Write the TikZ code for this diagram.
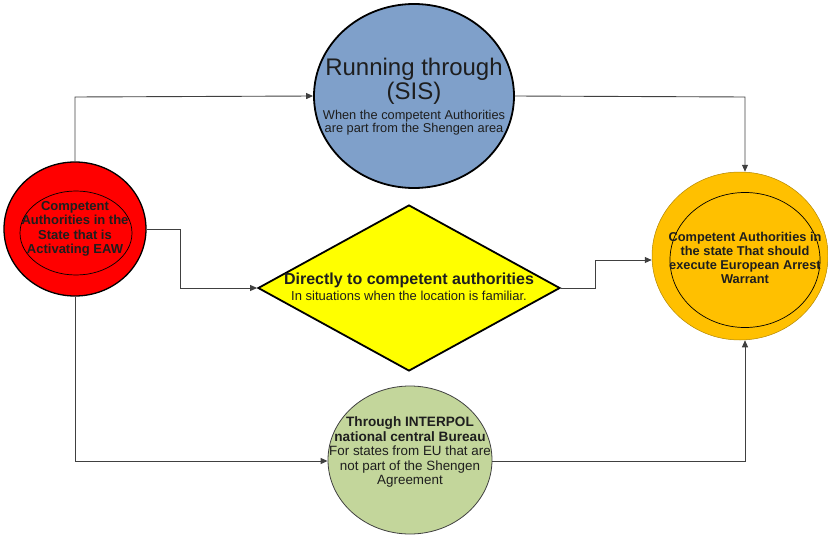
\documentclass[tikz,border=0pt]{standalone}
\usepackage{fontspec}
\setmainfont{Liberation Sans}
\usetikzlibrary{shapes.geometric,arrows.meta}
\definecolor{cred}{RGB}{255,0,0}
\definecolor{cblue}{RGB}{127,160,202}
\definecolor{cyellow}{RGB}{255,255,0}
\definecolor{corange}{RGB}{255,192,0}
\definecolor{cgreen}{RGB}{195,214,155}
\definecolor{cline}{RGB}{64,64,64}
\definecolor{ctext}{RGB}{30,30,30}
\tikzset{
  shp/.style={ellipse, inner sep=0pt},
  conn/.style={draw=cline, line width=0.9pt, -{Triangle[length=7pt,width=6pt]}},
  txt/.style={align=center, text=ctext, inner sep=0pt},
}
\begin{document}
\begin{tikzpicture}[x=1pt,y=-1pt]
\useasboundingbox (0,0) rectangle (828,535);
% shapes
\node[shp, draw=black, line width=1.3pt, fill=cred, minimum width=142pt, minimum height=134pt] (red) at (75,229) {};
\node[shp, draw=black, line width=0.7pt, minimum width=112pt, minimum height=84pt] (redin) at (76,233) {};
\node[shp, draw=black, line width=1.8pt, fill=cblue, minimum width=200pt, minimum height=184pt] (blue) at (414,96) {};
\node[diamond, draw=black, line width=1.8pt, fill=cyellow, inner sep=0pt, minimum width=302pt, minimum height=166pt] (dia) at (409,288) {};
\node[shp, draw=corange!70!black, line width=0.5pt, fill=corange, minimum width=176pt, minimum height=168pt] (org) at (740,256) {};
\node[shp, draw=black, line width=0.7pt, minimum width=150pt, minimum height=135pt] (orgin) at (745,260) {};
\node[shp, draw=black!75, line width=0.8pt, fill=cgreen, minimum width=164pt, minimum height=148pt] (grn) at (410,460) {};
% texts
\node[txt, font=\bfseries\fontsize{13}{14.5}\selectfont] (tred) at (75,229) {Competent\\Authorities in the\\State that is\\Activating EAW};
\node[txt, font=\fontsize{24}{24}\selectfont] (tblue1) at (414,81) {Running through\\(SIS)};
\node[txt, font=\fontsize{12.8}{13}\selectfont] (tblue2) at (414,123) {When the competent Authorities\\are part from the Shengen area};
\node[txt, font=\bfseries\fontsize{16}{15}\selectfont] (tdia1) at (409,280) {Directly to competent authorities};
\node[txt, font=\fontsize{13}{12}\selectfont] (tdia2) at (409,296) {In situations when the location is familiar.};
\node[txt, font=\bfseries\fontsize{12.8}{14}\selectfont] (torg) at (745,258) {Competent Authorities in\\the state That should\\execute European Arrest\\Warrant};
\node[txt, font=\bfseries\fontsize{13.6}{14.5}\selectfont] (tgrn1) at (410,429) {Through INTERPOL\\national central Bureau};
\node[txt, font=\fontsize{13.4}{14.5}\selectfont] (tgrn2) at (410,467) {For states from EU that are\\not part of the Shengen\\Agreement};
% connectors
\coordinate (c1) at (75,97);
\coordinate (c2) at (745,97);
\coordinate (c3) at (180,229);
\coordinate (c4) at (180,288);
\coordinate (c5) at (595,288);
\coordinate (c6) at (595,260);
\coordinate (c7) at (75,461);
\coordinate (c8) at (745,461);
\draw[conn] (red.north) -- (c1) -- (blue.west);
\draw[conn] (blue.east) -- (c2) -- (org.north -| c2);
\draw[conn] (red.east) -- (c3) -- (c4) -- (dia.west);
\draw[conn] (dia.east) -- (c5) -- (c6) -- (org.west |- c6);
\draw[conn] (red.south) -- (c7) -- (grn.west |- c7);
\draw[conn] (grn.east |- c8) -- (c8) -- (org.south -| c8);
\end{tikzpicture}
\end{document}
